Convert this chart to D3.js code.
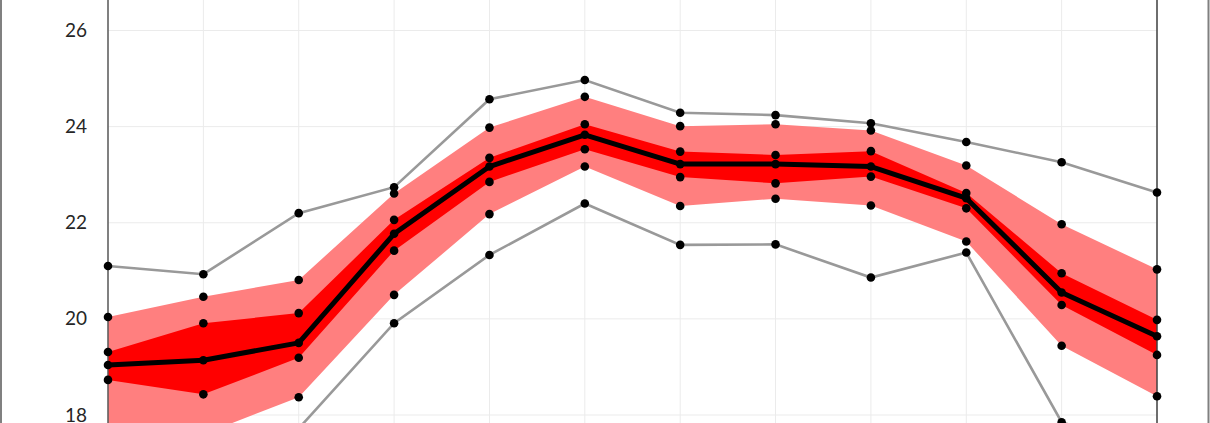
<!DOCTYPE html>
<html><head><meta charset="utf-8">
<script src="https://cdn.jsdelivr.net/npm/d3@7"></script>
<style>html,body{margin:0;padding:0;background:#fff;overflow:hidden}</style>
</head><body>
<svg id="c" width="1210" height="423"></svg>
<script>
const categories = ["Jan","Feb","Mar","Apr","May","Jun","Jul","Aug","Sep","Oct","Nov","Dec"];
const yTicks = [18, 20, 22, 24, 26];
const maxV       = [21.10, 20.93, 22.20, 22.74, 24.57, 24.97, 24.29, 24.24, 24.07, 23.68, 23.26, 22.63];
const upperLight = [20.04, 20.46, 20.81, 22.61, 23.98, 24.62, 24.01, 24.05, 23.92, 23.19, 21.97, 21.03];
const upperDark  = [19.31, 19.91, 20.12, 22.06, 23.35, 24.05, 23.48, 23.41, 23.49, 22.62, 20.95, 19.98];
const meanV      = [19.04, 19.14, 19.50, 21.77, 23.17, 23.83, 23.22, 23.22, 23.17, 22.51, 20.55, 19.64];
const lowerDark  = [18.73, 18.43, 19.19, 21.42, 22.85, 23.53, 22.95, 22.82, 22.96, 22.30, 20.29, 19.25];
const lowerLight = [17.70, 17.60, 18.37, 20.50, 22.18, 23.17, 22.35, 22.50, 22.36, 21.61, 19.44, 18.39];
const minV       = [17.00, 16.90, 17.72, 19.91, 21.33, 22.40, 21.54, 21.55, 20.86, 21.38, 17.85, 17.20];

const svg = d3.select("#c");
const x = d3.scalePoint().domain(categories).range([108, 1157]);
const y = d3.scaleLinear().domain([18, 26]).range([415, 30.5]);

// frame
svg.append("line").attr("x1",1).attr("x2",1).attr("y1",0).attr("y2",423).attr("stroke","#808080").attr("stroke-width",2);
svg.append("line").attr("x1",1208.5).attr("x2",1208.5).attr("y1",0).attr("y2",423).attr("stroke","#808080").attr("stroke-width",2);

// grid
const g = svg.append("g");
g.selectAll(".hg").data(yTicks).join("line")
  .attr("x1",108).attr("x2",1157).attr("y1",d=>y(d)).attr("y2",d=>y(d))
  .attr("stroke","#ebebeb").attr("stroke-width",1);
g.selectAll(".vg").data(categories).join("line")
  .attr("x1",d=>x(d)).attr("x2",d=>x(d)).attr("y1",0).attr("y2",423)
  .attr("stroke","#ebebeb").attr("stroke-width",1);

// y axis labels
const yAxis = d3.axisLeft(y).tickValues(yTicks).tickSize(0).tickPadding(21).tickFormat(d3.format("d"));
const ya = svg.append("g").attr("transform","translate(108,0)").call(yAxis);
ya.select(".domain").remove();
ya.selectAll("text").attr("font-family","Lato, 'Open Sans', sans-serif").attr("font-size",19).attr("fill","#262626");

const idx = d3.range(categories.length);
const band = (lo, hi) => d3.area().x(i=>x(categories[i])).y0(i=>y(lo[i])).y1(i=>y(hi[i]))(idx);
svg.append("path").attr("d", band(lowerLight, upperLight)).attr("fill","#ff7f7f");
svg.append("path").attr("d", band(lowerDark, upperDark)).attr("fill","#ff0000");

const line = arr => d3.line().x(i=>x(categories[i])).y(i=>y(arr[i]))(idx);
svg.append("path").attr("d", line(maxV)).attr("fill","none").attr("stroke","#999").attr("stroke-width",2.6);
svg.append("path").attr("d", line(minV)).attr("fill","none").attr("stroke","#999").attr("stroke-width",2.6);
svg.append("path").attr("d", line(meanV)).attr("fill","none").attr("stroke","#000").attr("stroke-width",5).attr("stroke-linejoin","round");

// axis lines
svg.append("line").attr("x1",108).attr("x2",108).attr("y1",0).attr("y2",423).attr("stroke","#595959").attr("stroke-width",1.5);
svg.append("line").attr("x1",1157).attr("x2",1157).attr("y1",0).attr("y2",423).attr("stroke","#404040").attr("stroke-width",1.5);

// dots
const all = [maxV, upperLight, upperDark, meanV, lowerDark, lowerLight, minV];
all.forEach(arr => {
  svg.append("g").selectAll("circle").data(idx).join("circle")
    .attr("cx", i=>x(categories[i])).attr("cy", i=>y(arr[i])).attr("r",4.3).attr("fill","#000");
});
</script>
</body></html>
